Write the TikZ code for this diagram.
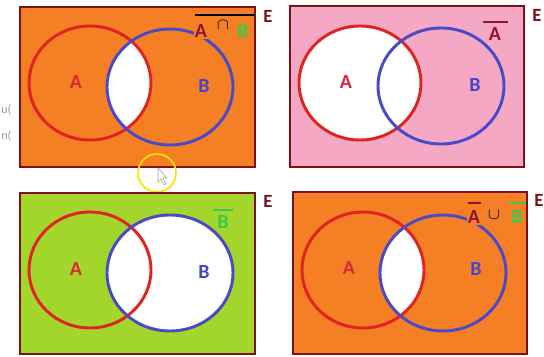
\documentclass[tikz,border=0pt]{standalone}
\usepackage{amsmath}
\usepackage{fontspec}
\setmainfont{Carlito}
\definecolor{frame}{HTML}{7E1018}
\definecolor{orng}{HTML}{F57F25}
\definecolor{pnk}{HTML}{F5A8C3}
\definecolor{grn}{HTML}{A2D62A}
\definecolor{redc}{HTML}{E0231F}
\definecolor{bluec}{HTML}{4A4AC8}
\definecolor{labr}{HTML}{D8283A}
\definecolor{labb}{HTML}{4646C8}
\definecolor{darkr}{HTML}{8E1430}
\definecolor{lgrn}{HTML}{3CC84A}
\tikzset{
  x=0.75pt, y=-0.75pt,
  panel/.style={draw=frame, line width=2.2pt},
  setA/.style={draw=redc, line width=2.2pt},
  setB/.style={draw=bluec, line width=2.2pt},
  lab/.style={font=\bfseries\fontsize{15}{15}\selectfont, inner sep=1pt},
  sym/.style={font=\fontsize{13}{13}\selectfont, inner sep=0pt, text=black!85},
  elab/.style={font=\bfseries\fontsize{14}{14}\selectfont, text=frame, inner sep=0pt},
  side/.style={font=\fontsize{9}{9}\selectfont, text=gray!80, inner sep=0pt, anchor=west}
}
\begin{document}
\begin{tikzpicture}
\useasboundingbox (0,0) rectangle (544,357);
\fill[white] (0,0) rectangle (544,357);
% side text fragments
\node[side] (s1) at (1,110) {u(};
\node[side] (s2) at (1,136) {n(};

% ---------- panel 1 : complement of A cap B
\fill[orng] (20,7) rectangle (255,167);
\begin{scope}
  \clip (90,83) ellipse [x radius=61, y radius=57];
  \fill[white] (170,87) ellipse [x radius=63, y radius=58];
\end{scope}
\draw[setA] (90,83) ellipse [x radius=61, y radius=57];
\draw[setB] (170,87) ellipse [x radius=63, y radius=58];
\draw[panel] (20,7) rectangle (255,167);
\node[elab] (e1) at (268,16) {E};
\node[lab, text=labr] (a1) at (76,82) {A};
\node[lab, text=labb] (b1) at (204,86) {B};
\node[lab, text=darkr, fill=orng] (n1a) at (201,31) {A};
\node[sym] (n1c) at (223,25) {$\boldsymbol{\cap}$};
\node[lab, text=lgrn] (n1b) at (243,31) {B};
\draw[black, line width=2.2pt] (195,15) -- (254,15);
% cursor highlight
\draw[yellow!85!orange, line width=1.3pt] (157,173) circle [radius=19];
\draw[gray!70, fill=white, line width=0.5pt] (158,168) -- (158,182) -- (161,179) -- (164,185) -- (166,184) -- (163,178) -- (167,178) -- cycle;

% ---------- panel 2 : complement of A
\fill[pnk] (290,6) rectangle (524,167);
\fill[white] (360,83) ellipse [x radius=61, y radius=57];
\draw[setA] (360,83) ellipse [x radius=61, y radius=57];
\draw[setB] (441,86) ellipse [x radius=63, y radius=58];
\draw[panel] (290,6) rectangle (524,167);
\node[elab] (e2) at (537,15) {E};
\node[lab, text=labr] (a2) at (346,82) {A};
\node[lab, text=labb] (b2) at (475,85) {B};
\node[lab, text=darkr] (n2a) at (495,34) {A};
\draw[darkr, line width=2.2pt] (483,22) -- (508,22);

% ---------- panel 3 : complement of B
\fill[grn] (20,193) rectangle (255,354);
\fill[white] (170,273) ellipse [x radius=63, y radius=58];
\draw[setA] (90,270) ellipse [x radius=61, y radius=58];
\draw[setB] (170,273) ellipse [x radius=63, y radius=58];
\draw[panel] (20,193) rectangle (255,354);
\node[elab] (e3) at (268,201) {E};
\node[lab, text=labr] (a3) at (76,269) {A};
\node[lab, text=labb] (b3) at (204,272) {B};
\node[lab, text=lgrn] (n3b) at (223,222) {B};
\draw[lgrn, line width=2.2pt] (213,210) -- (233,210);

% ---------- panel 4 : complement A cup complement B
\fill[orng] (293,192) rectangle (527,354);
\begin{scope}
  \clip (363,270) ellipse [x radius=61, y radius=58];
  \fill[white] (443,273) ellipse [x radius=63, y radius=58];
\end{scope}
\draw[setA] (363,270) ellipse [x radius=61, y radius=58];
\draw[setB] (443,273) ellipse [x radius=63, y radius=58];
\draw[panel] (293,192) rectangle (527,354);
\node[elab] (e4) at (539,200) {E};
\node[lab, text=labr] (a4) at (349,268) {A};
\node[lab, text=labb] (b4) at (476,269) {B};
\node[lab, text=darkr, fill=orng] (n4a) at (474,217) {A};
\node[sym] (n4c) at (494,215) {$\boldsymbol{\cup}$};
\node[lab, text=lgrn] (n4b) at (517,217) {B};
\draw[darkr, line width=2.2pt] (468,203) -- (481,203);
\draw[lgrn, line width=2.2pt] (509,203) -- (526,203);
\end{tikzpicture}
\end{document}
